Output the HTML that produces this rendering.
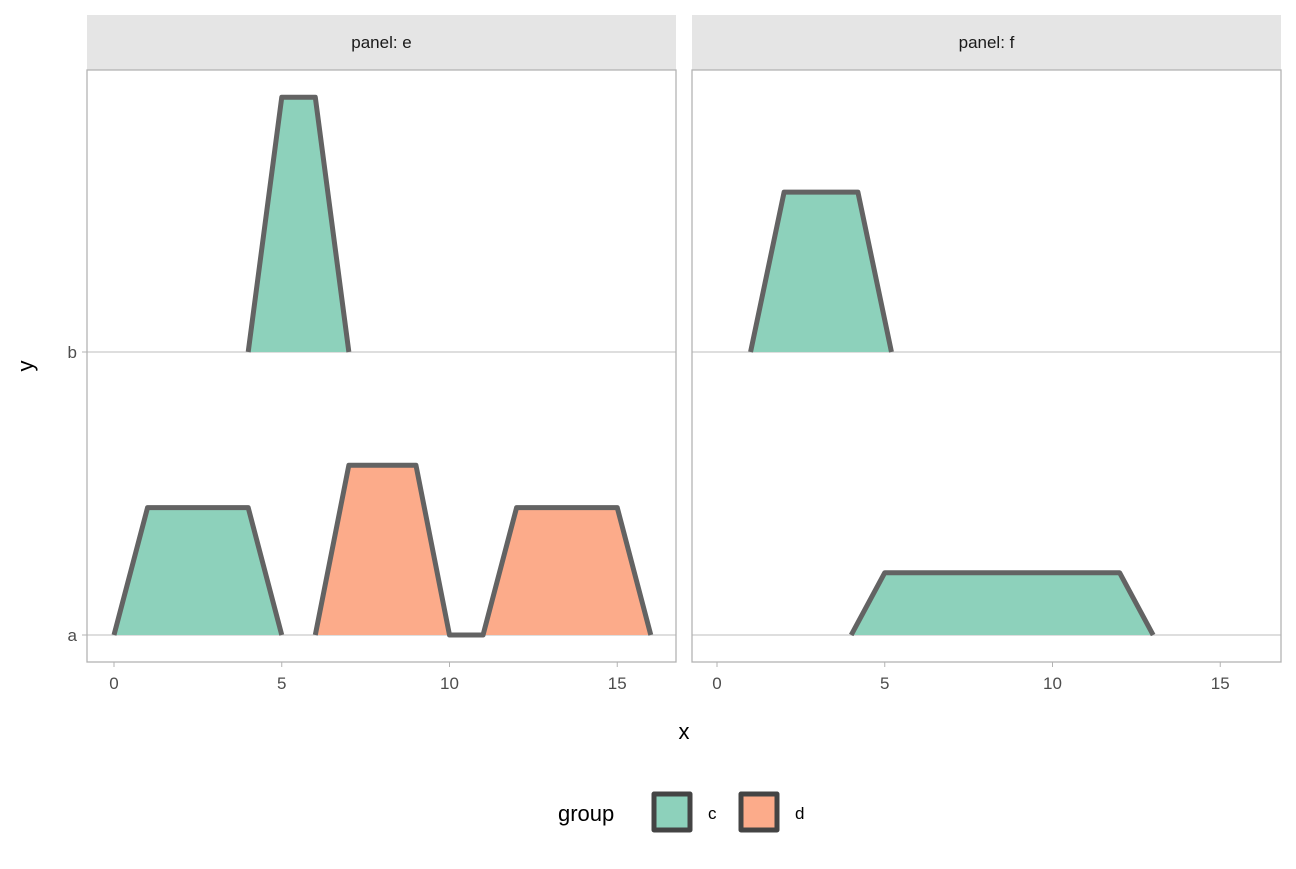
<!DOCTYPE html>
<html><head><meta charset="utf-8"><style>
body{margin:0;background:#fff}
svg text{font-family:"Liberation Sans",Arial,sans-serif}
</style></head><body>
<svg id="chart" width="1296" height="864">
<g id="g"></g>
</svg>
<script>
const panels=['e','f'];
const categories=['a','b'];
const xTicks=[0,5,10,15];
const ridgePanel=['e','e','e','f','f'];
const ridgeCat=['a','a','b','b','a'];
const ridgeGroup=['c','d','c','c','c'];
const ridgeX=[[0,1,4,5],[6,7,9,10,11,12,15,16],[4,5,6,7],[1,2,4.2,5.2],[4,5,12,13]];
const ridgeH=[[0,0.45,0.45,0],[0,0.6,0.6,0,0,0.45,0.45,0],[0,0.9,0.9,0],[0,0.565,0.565,0],[0,0.22,0.22,0]];
const colors={c:'#8dd1bb',d:'#fcab8a'};
const NS='http://www.w3.org/2000/svg';
const g=document.getElementById('g');
function el(t,a,txt){const e=document.createElementNS(NS,t);for(const k in a)e.setAttribute(k,a[k]);if(txt!==undefined)e.textContent=txt;g.appendChild(e);return e;}
const pX=[{l:87,r:676,x0:114},{l:692,r:1281,x0:717}];
const ux=33.55;
const plotTop=70,plotBot=662;
function yS(ci){return 635-ci*283;}
panels.forEach((p,pi)=>{
  const P=pX[pi];
  let e=el('rect',{x:P.l,y:15,width:P.r-P.l,height:55,fill:'#e5e5e5'});
  
  
  e=el('text',{x:(P.l+P.r)/2,y:48,'text-anchor':'middle','font-size':17,fill:'#1a1a1a'},'panel: '+p);
  
  
  categories.forEach((c,ci)=>{
    const ln=el('line',{x1:P.l,x2:P.r,y1:yS(ci),y2:yS(ci),stroke:'#dedede','stroke-width':2});
    
    
  });
  xTicks.forEach(t=>{
    const x=P.x0+t*ux;
    let tk=el('line',{x1:x,x2:x,y1:plotBot,y2:plotBot+5,stroke:'#b3b3b3'});
    
    
    tk=el('text',{x:x,y:plotBot+27,'text-anchor':'middle','font-size':17,fill:'#4d4d4d'},t);
    
    
  });
  ridgeX.forEach((xs,ri)=>{
    if(ridgePanel[ri]!==p)return;
    const base=yS(categories.indexOf(ridgeCat[ri]));
    const pts=xs.map((x,i)=>(P.x0+x*ux)+','+(base-ridgeH[ri][i]*283)).join(' ');
    let r=el('polygon',{points:pts,fill:colors[ridgeGroup[ri]],stroke:'none'});
    
    
    r=el('polyline',{points:pts,fill:'none',stroke:'#636363','stroke-width':5,'stroke-linejoin':'round'});
    
    
  });
  e=el('rect',{x:P.l,y:plotTop,width:P.r-P.l,height:plotBot-plotTop,fill:'none',stroke:'#b3b3b3','stroke-width':1.3});
  
  
});
categories.forEach((c,ci)=>{
  let e=el('line',{x1:82,x2:87,y1:yS(ci),y2:yS(ci),stroke:'#b3b3b3'});
  
  
  e=el('text',{x:77,y:yS(ci)+6,'text-anchor':'end','font-size':17,fill:'#4d4d4d'},c);
  
  
});
let t1=el('text',{x:684,y:739,'text-anchor':'middle','font-size':22,fill:'#000'},'x');


t1=el('text',{x:33,y:366,'text-anchor':'middle','font-size':22,fill:'#000',transform:'rotate(-90 33 366)'},'y');


t1=el('text',{x:558,y:821,'font-size':22,fill:'#000'},'group');


[['c',652],['d',739]].forEach(([k,x])=>{
  let r=el('rect',{x:x+2,y:794,width:36,height:36,fill:colors[k],stroke:'#444','stroke-width':5,'stroke-linejoin':'round'});
  
  
  r=el('text',{x:x+56,y:819,'font-size':17,fill:'#000'},k);
  
  
});
</script>
</body></html>
